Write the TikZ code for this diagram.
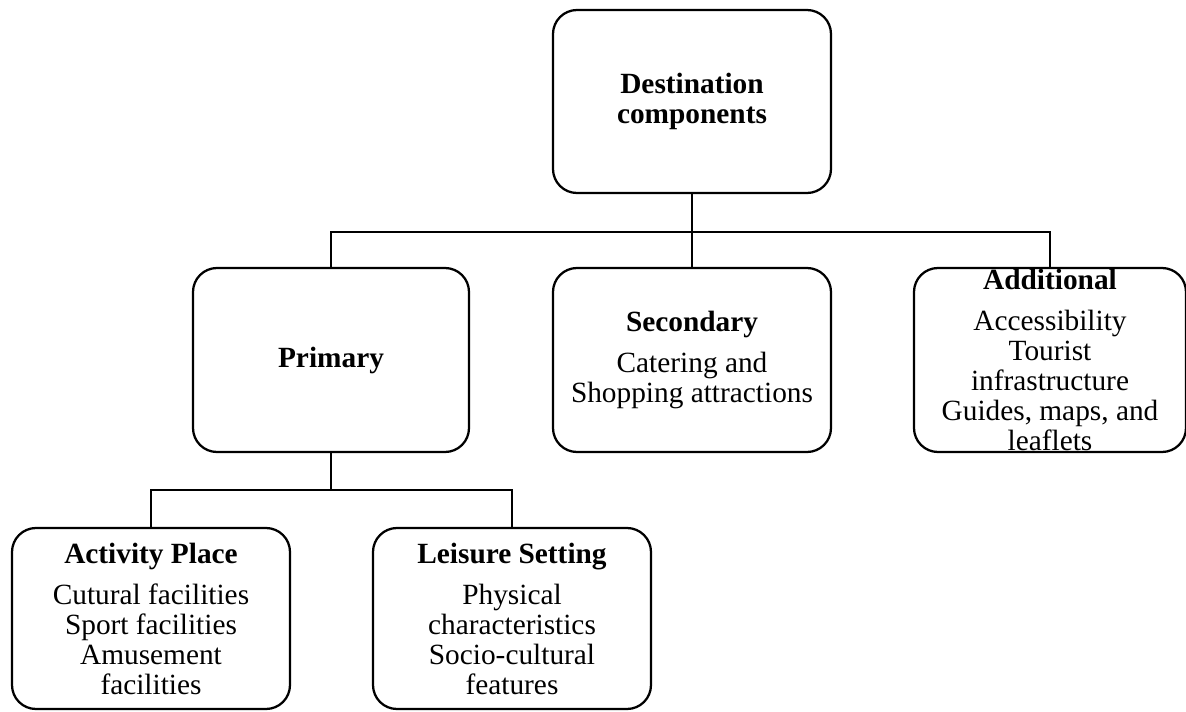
\documentclass[tikz,border=0pt]{standalone}
\usepackage{fontspec}
\setmainfont{Liberation Serif}

\def\px{0.75pt}
\tikzset{
  box/.style 2 args={draw, line width=1.7pt, rounded corners=18pt, inner sep=0pt,
    minimum width=#1*\px, minimum height=#2*\px},
  txt/.style={align=center, inner sep=0pt, font=\fontsize{22}{22.5}\selectfont},
  link/.style={line width=1.7pt}
}

\begin{document}
\begin{tikzpicture}[x=\px, y=-\px]
      \useasboundingbox (0,0) rectangle (1186,711);
      % boxes
      \node[box={278}{183}] (dest) at (692,101.5) {};
      \node[box={276}{184}] (prim) at (331,360) {};
      \node[box={278}{184}] (sec) at (692,360) {};
      \node[box={272}{184}] (add) at (1050,360) {};
      \node[box={278}{181}] (act) at (151,618.5) {};
      \node[box={278}{181}] (lei) at (512,618.5) {};
      % texts
      \node[txt] (dest-t) at (dest) {\textbf{Destination}\\\textbf{components}};
      \node[txt] (prim-t) at (prim) {\textbf{Primary}};
      \node[txt] (sec-t) at (sec) {\textbf{Secondary}\\[8.25pt]Catering and\\Shopping attractions};
      \node[txt] (add-t) at (add) {\textbf{Additional}\\[8.25pt]Accessibility\\Tourist\\infrastructure\\Guides, maps, and\\leaflets};
      \node[txt] (act-t) at (act) {\textbf{Activity Place}\\[8.25pt]Cutural facilities\\Sport facilities\\Amusement\\facilities};
      \node[txt] (lei-t) at (lei) {\textbf{Leisure Setting}\\[8.25pt]Physical\\characteristics\\Socio-cultural\\features};
      % connectors
      \coordinate (bus) at (692,232);
      \coordinate (bus2) at (331,490);
      \draw[link] (dest.south) -- (sec.north);
      \draw[link] (prim.north) |- (bus) -| (add.north);
      \draw[link] (prim.south) -- (bus2);
      \draw[link] (act.north) |- (bus2) -| (lei.north);
\end{tikzpicture}
\end{document}
